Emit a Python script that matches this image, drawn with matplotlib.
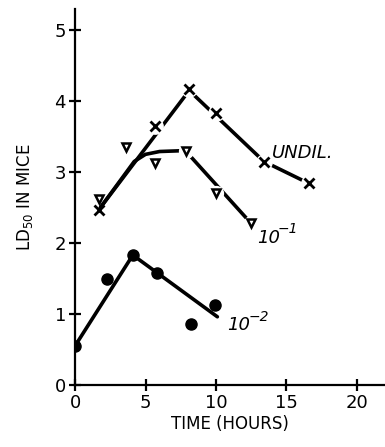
import matplotlib
matplotlib.use('Agg')
import matplotlib.pyplot as plt

# -----------------------------------------------------------------------
# Data
# -----------------------------------------------------------------------
undil_t  = [1.7, 5.7, 8.1, 10.0, 13.4, 16.6]
undil_ld = [2.47, 3.65, 4.17, 3.83, 3.14, 2.84]

d1_t  = [1.7, 3.6, 5.7, 7.9, 10.0, 12.5]
d1_ld = [2.62, 3.35, 3.13, 3.30, 2.70, 2.28]

d2_t  = [0.0, 2.3, 4.1, 5.8, 8.2, 9.95]
d2_ld = [0.55, 1.49, 1.83, 1.58, 0.86, 1.13]

# hand-drawn fit lines
undil_fit_t  = [1.8, 8.1, 13.4, 16.6]
undil_fit_ld = [2.50, 4.15, 3.15, 2.84]
d1_fit_t     = [1.8, 4.2, 5.0, 6.0, 7.4]
d1_fit_ld    = [2.50, 3.15, 3.25, 3.29, 3.30]
d1_fall_t    = [8.2, 12.3]
d1_fall_ld   = [3.22, 2.32]
d2_fit_t     = [0.0, 4.1, 10.1]
d2_fit_ld    = [0.55, 1.83, 0.96]

x_ticks = [0, 5, 10, 15, 20]
y_ticks = [0, 1, 2, 3, 4, 5]


def dilution_label(ax, x, y, exp):
    # italic "10" with a small italic superscript exponent
    ax.text(x, y, '10', style='italic', fontsize=13, va='baseline')
    ax.annotate(exp, xy=(x, y), xytext=(15, 7), textcoords='offset points',
                style='italic', fontsize=10, va='baseline')


# -----------------------------------------------------------------------
# Plot
# -----------------------------------------------------------------------
plt.rcParams['font.family'] = ['DejaVu Sans']
fig = plt.figure(figsize=(3.85, 4.47), dpi=100)
ax = fig.add_axes([0.195, 0.139, 0.805, 0.841])

lw = 2.6
for t, ld in [(undil_fit_t, undil_fit_ld), (d1_fit_t, d1_fit_ld),
              (d1_fall_t, d1_fall_ld), (d2_fit_t, d2_fit_ld)]:
    ax.plot(t, ld, color='black', lw=lw, solid_capstyle='round', zorder=2)

# white halos break the lines around the open markers, like the original
ax.plot(undil_t[1:], undil_ld[1:], 'o', color='white', ms=11, zorder=3)
ax.plot(d1_t[3:], d1_ld[3:], 'o', color='white', ms=10, zorder=3)

ax.plot(undil_t, undil_ld, 'x', color='black', ms=7, mew=2, zorder=4)
ax.plot(d1_t, d1_ld, 'v', color='black', ms=6, mew=1.8, mfc='white', zorder=4)
ax.plot(d2_t, d2_ld, 'o', color='black', ms=8, zorder=4)

ax.text(14.0, 3.2, 'UNDIL.', style='italic', fontsize=13)
dilution_label(ax, 12.9, 2.0, '\u22121')
dilution_label(ax, 10.8, 0.77, '\u22122')

ax.set_xlim(0, 22)
ax.set_ylim(0, 5.3)
ax.set_xticks(x_ticks)
ax.set_yticks(y_ticks)
ax.spines['top'].set_visible(False)
ax.spines['right'].set_visible(False)
ax.spines['left'].set_linewidth(1.6)
ax.spines['bottom'].set_linewidth(1.6)
ax.tick_params(direction='inout', length=9, width=1.6, labelsize=13, pad=2)
ax.set_xlabel('TIME (HOURS)', fontsize=12, labelpad=2)
ax.set_ylabel('LD$_{\\mathrm{50}}$ IN MICE', fontsize=12, labelpad=14)

plt.savefig('out.png', dpi=100)
plt.close()
